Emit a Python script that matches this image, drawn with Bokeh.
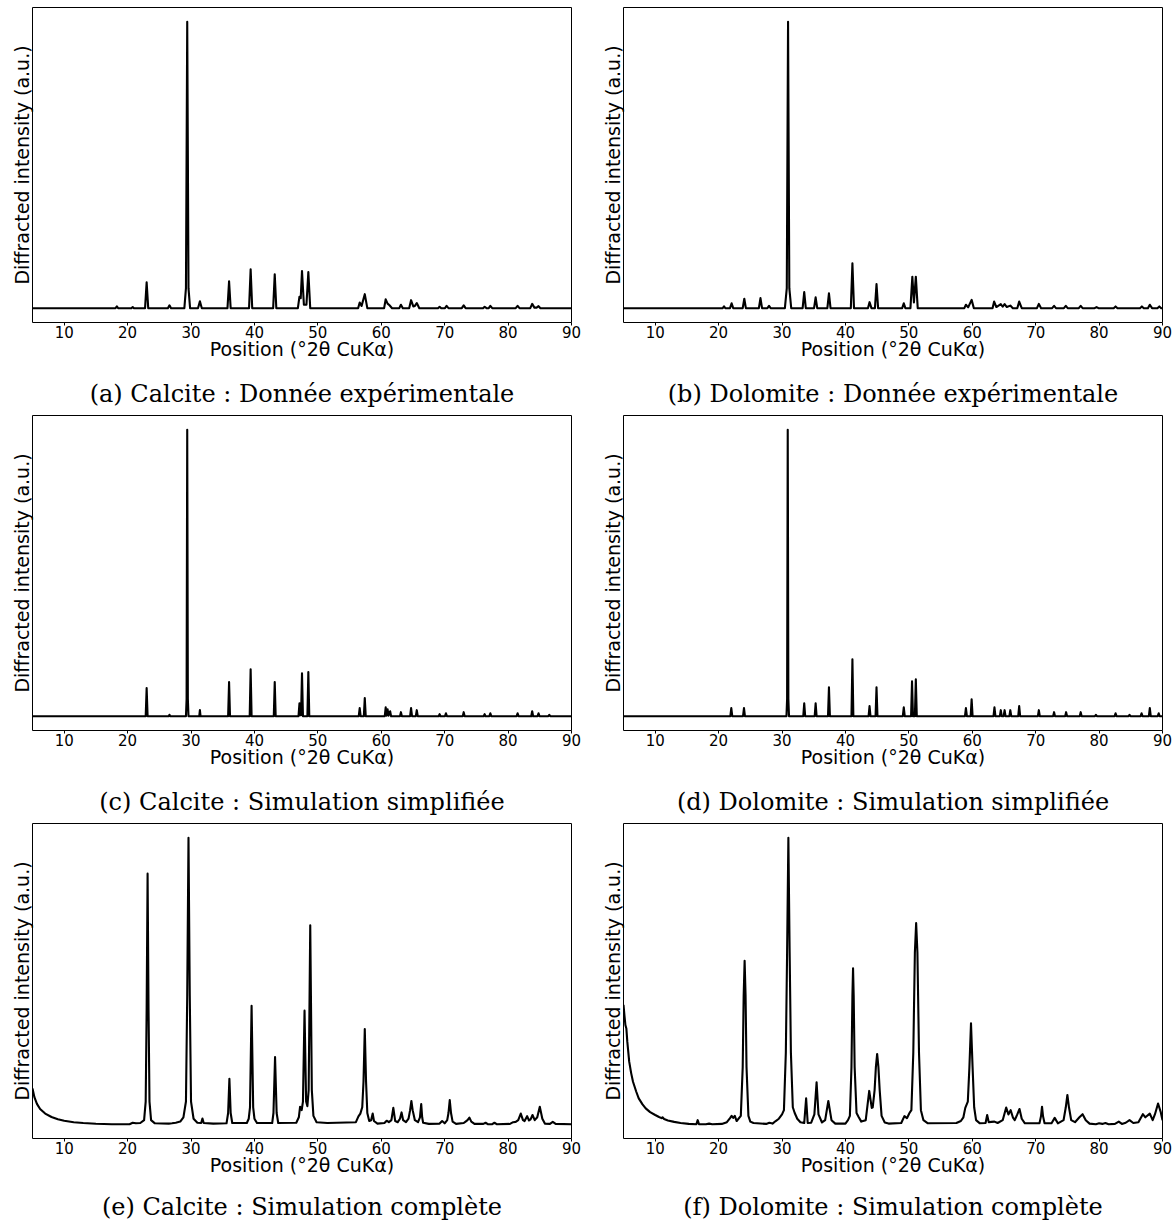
from bokeh.plotting import figure
from bokeh.models import Range1d, FixedTicker, LinearAxis
from bokeh.layouts import column, row
from bokeh.embed import file_html
from bokeh.resources import INLINE

# ---------------- data (°2θ, normalised intensity) ----------------
x_ticks = [10, 20, 30, 40, 50, 60, 70, 80, 90]

# (a) Calcite : experimental
calcite_exp_2theta = [
    5.0, 18.1, 18.3, 18.5,
    20.6, 20.8, 21.0,
    22.75, 23.0, 23.25,
    26.35, 26.6, 26.85,
    28.95, 29.2, 29.4, 29.6, 29.85,
    31.1, 31.4, 31.7,
    35.75, 36.0, 36.25,
    39.15, 39.4, 39.65,
    42.95, 43.2, 43.45,
    46.85, 47.1, 47.3, 47.5, 47.8, 48.2, 48.5, 48.8,
    56.35, 56.6, 56.9, 57.4, 57.8,
    60.45, 60.7, 61.0, 61.3, 61.7,
    62.85, 63.1, 63.4,
    64.4, 64.7, 65.05, 65.3, 65.6, 66.0,
    68.95, 69.2, 69.45, 70.05, 70.3, 70.6,
    72.7, 73.0, 73.3,
    76.05, 76.3, 76.6, 76.95, 77.2, 77.5,
    81.2, 81.5, 81.8,
    83.5, 83.8, 84.15, 84.5, 84.8, 85.1,
    90.0,
]
calcite_exp_int = [
    0.0, 0.0, 0.6, 0.0,
    0.0, 0.4, 0.0,
    0.0, 9.0, 0.0,
    0.0, 1.0, 0.0,
    0.0, 7.0, 100.0, 7.0, 0.0,
    0.0, 2.4, 0.0,
    0.0, 9.4, 0.0,
    0.0, 13.6, 0.0,
    0.0, 11.8, 0.0,
    0.0, 4.0, 3.5, 13.0, 1.2, 1.2, 12.6, 0.0,
    0.0, 2.0, 0.8, 4.9, 0.0,
    0.0, 3.1, 1.6, 1.0, 0.0,
    0.0, 1.2, 0.0,
    0.0, 2.8, 0.6, 0.8, 1.8, 0.0,
    0.0, 0.5, 0.0, 0.0, 0.8, 0.0,
    0.0, 1.0, 0.0,
    0.0, 0.5, 0.0, 0.0, 0.8, 0.0,
    0.0, 0.8, 0.0,
    0.0, 1.5, 0.2, 0.2, 0.7, 0.0,
    0.0,
]

# (b) Dolomite : experimental
dolomite_exp_2theta = [
    5.0,
    20.65, 20.85, 21.05,
    21.8, 22.05, 22.3,
    23.8, 24.05, 24.3,
    26.35, 26.6, 26.85,
    27.7, 27.95, 28.2,
    30.45, 30.75, 30.95, 31.15, 31.45,
    33.25, 33.5, 33.75,
    35.05, 35.3, 35.55,
    37.15, 37.4, 37.65,
    40.85, 41.1, 41.35,
    43.55, 43.8, 44.1, 44.65, 44.9, 45.15,
    48.95, 49.2, 49.45,
    50.25, 50.55, 50.8, 51.1, 51.4,
    58.75, 59.0, 59.35, 59.9, 60.25,
    63.2, 63.45, 63.8, 64.5, 64.8, 65.1, 65.45, 66.0, 66.4,
    67.1, 67.4, 67.8,
    70.2, 70.5, 70.85,
    72.6, 72.9, 73.2,
    74.45, 74.75, 75.05,
    76.8, 77.1, 77.4,
    79.3, 79.6, 79.9,
    82.3, 82.6, 82.9,
    86.45, 86.75, 87.05,
    87.7, 88.0, 88.35, 89.2, 89.5, 89.8,
    90.0,
]
dolomite_exp_int = [
    0.0,
    0.0, 0.6, 0.0,
    0.0, 1.7, 0.0,
    0.0, 3.3, 0.0,
    0.0, 3.5, 0.0,
    0.0, 0.8, 0.0,
    0.0, 7.0, 100.0, 7.0, 0.0,
    0.0, 5.6, 0.0,
    0.0, 3.8, 0.0,
    0.0, 5.2, 0.0,
    0.0, 15.7, 0.0,
    0.0, 2.1, 0.0, 0.0, 8.4, 0.0,
    0.0, 1.7, 0.0,
    0.0, 11.0, 2.0, 11.0, 0.0,
    0.0, 1.2, 0.3, 2.9, 0.0,
    0.0, 2.3, 0.4, 1.4, 0.5, 1.4, 0.4, 0.9, 0.0,
    0.0, 2.3, 0.0,
    0.0, 1.5, 0.0,
    0.0, 0.8, 0.0,
    0.0, 0.8, 0.0,
    0.0, 0.8, 0.0,
    0.0, 0.4, 0.0,
    0.0, 0.6, 0.0,
    0.0, 0.6, 0.0,
    0.0, 1.2, 0.0, 0.0, 0.6, 0.0,
    0.0,
]

# (c) Calcite : simplified simulation
calcite_simple_2theta = [
    5.0,
    22.85, 23.0, 23.15,
    26.5, 26.6, 26.7,
    29.2, 29.3, 29.4, 29.5, 29.6,
    31.3, 31.4, 31.5,
    35.85, 36.0, 36.15,
    39.25, 39.4, 39.55,
    43.05, 43.2, 43.35,
    46.95, 47.1, 47.25, 47.35, 47.5, 47.65, 48.35, 48.5, 48.65,
    56.45, 56.6, 56.75, 57.25, 57.4, 57.55,
    60.55, 60.7, 60.85, 61.0, 61.15, 61.4, 61.55,
    62.95, 63.1, 63.25,
    64.55, 64.7, 64.85, 65.45, 65.6, 65.75,
    69.05, 69.2, 69.35, 70.05, 70.2, 70.35,
    72.85, 73.0, 73.15,
    76.15, 76.3, 76.45, 77.05, 77.2, 77.35,
    81.35, 81.5, 81.65,
    83.65, 83.8, 83.95, 84.65, 84.8, 84.95,
    86.35, 86.5, 86.65,
    90.0,
]
calcite_simple_int = [
    0.0,
    0.0, 9.8, 0.0,
    0.0, 0.5, 0.0,
    0.0, 6.0, 100.0, 6.0, 0.0,
    0.0, 2.1, 0.0,
    0.0, 11.9, 0.0,
    0.0, 16.4, 0.0,
    0.0, 11.9, 0.0,
    0.0, 4.5, 0.3, 0.3, 15.0, 0.0, 0.0, 15.4, 0.0,
    0.0, 2.8, 0.0, 0.0, 6.3, 0.0,
    0.0, 3.1, 0.2, 2.4, 0.2, 1.7, 0.0,
    0.0, 1.4, 0.0,
    0.0, 2.8, 0.0, 0.0, 2.1, 0.0,
    0.0, 0.7, 0.0, 0.0, 1.0, 0.0,
    0.0, 1.4, 0.0,
    0.0, 0.7, 0.0, 0.0, 1.0, 0.0,
    0.0, 1.0, 0.0,
    0.0, 1.7, 0.0, 0.0, 1.0, 0.0,
    0.0, 0.5, 0.0,
    0.0,
]

# (d) Dolomite : simplified simulation
dolomite_simple_2theta = [
    5.0,
    21.85, 22.0, 22.15,
    23.85, 24.0, 24.15,
    30.7, 30.8, 30.9, 31.0, 31.1,
    33.35, 33.5, 33.65,
    35.15, 35.3, 35.45,
    37.25, 37.4, 37.55,
    40.95, 41.1, 41.25,
    43.65, 43.8, 43.95,
    44.75, 44.9, 45.05,
    49.05, 49.2, 49.35,
    50.35, 50.5, 50.65, 50.95, 51.1, 51.25,
    58.85, 59.0, 59.15, 59.75, 59.9, 60.05,
    63.35, 63.5, 63.65,
    64.35, 64.5, 64.65, 64.95, 65.1, 65.25, 65.85, 66.0, 66.15,
    67.25, 67.4, 67.55,
    70.35, 70.5, 70.65,
    72.75, 72.9, 73.05,
    74.65, 74.8, 74.95,
    76.95, 77.1, 77.25,
    79.35, 79.5, 79.65,
    82.45, 82.6, 82.75,
    84.65, 84.8, 84.95,
    86.55, 86.7, 86.85,
    87.85, 88.0, 88.15,
    89.25, 89.4, 89.55,
    90.0,
]
dolomite_simple_int = [
    0.0,
    0.0, 2.8, 0.0,
    0.0, 2.8, 0.0,
    0.0, 6.0, 100.0, 6.0, 0.0,
    0.0, 4.5, 0.0,
    0.0, 4.5, 0.0,
    0.0, 10.1, 0.0,
    0.0, 19.9, 0.0,
    0.0, 3.5, 0.0,
    0.0, 10.1, 0.0,
    0.0, 3.1, 0.0,
    0.0, 12.2, 0.0, 0.0, 12.9, 0.0,
    0.0, 2.8, 0.0, 0.0, 5.9, 0.0,
    0.0, 3.1, 0.0,
    0.0, 2.1, 0.0, 0.0, 2.1, 0.0, 0.0, 2.1, 0.0,
    0.0, 3.5, 0.0,
    0.0, 2.1, 0.0,
    0.0, 1.4, 0.0,
    0.0, 1.4, 0.0,
    0.0, 1.4, 0.0,
    0.0, 0.5, 0.0,
    0.0, 1.0, 0.0,
    0.0, 0.5, 0.0,
    0.0, 1.0, 0.0,
    0.0, 2.8, 0.0,
    0.0, 1.0, 0.0,
    0.0,
]

# (e) Calcite : complete simulation
calcite_full_2theta = [
    5.0, 5.3, 5.7, 6.2, 7.0, 8.0, 9.0, 10.0, 11.5, 13.0, 15.0, 17.5,
    20.3, 20.8, 21.3, 22.0,
    22.6, 22.85, 23.0, 23.15, 23.3, 23.45, 23.7, 24.3,
    26.5, 27.0, 27.6, 28.3, 28.8,
    29.2, 29.4, 29.6, 29.8, 30.0, 30.4, 31.0,
    31.6, 31.8, 32.0, 33.5,
    35.6, 35.85, 36.05, 36.25, 36.5,
    38.8, 39.1, 39.3, 39.55, 39.8, 40.0, 40.4,
    42.8, 43.0, 43.25, 43.5, 43.75,
    46.6, 47.0, 47.2, 47.45, 47.65, 47.9, 48.15, 48.35, 48.55, 48.8, 49.05, 49.3, 49.8,
    51.5,
    56.0, 56.4, 56.7, 57.0, 57.2, 57.4, 57.6, 57.8, 58.1, 58.4, 58.65, 58.85, 59.4,
    60.5, 60.85, 61.2, 61.6, 61.9, 62.2, 62.6, 62.95, 63.2, 63.45, 63.9,
    64.3, 64.55, 64.75, 64.95, 65.3, 65.8, 66.1, 66.3, 66.45, 66.6, 67.5,
    69.2, 69.6, 70.0, 70.4, 70.6, 70.8, 71.0, 71.25, 71.8,
    73.0, 73.3, 73.6, 73.9, 74.2, 74.7,
    76.1, 76.45, 76.8, 77.5, 77.85, 78.2,
    80.3, 80.8, 81.2, 81.6, 82.0, 82.35, 82.6, 83.0, 83.3, 83.55, 83.85, 84.2,
    84.6, 85.0, 85.4, 85.8, 86.6, 87.05, 87.5, 90.0,
]
calcite_full_int = [
    12.6, 9.5, 7.2, 5.4, 3.8, 2.6, 1.8, 1.3, 0.8, 0.5, 0.25, 0.1,
    0.1, 0.6, 0.4, 0.5,
    1.5, 8.0, 40.0, 87.5, 40.0, 8.0, 1.5, 0.4,
    0.3, 0.4, 0.6, 1.0, 2.5,
    8.0, 45.0, 100.0, 45.0, 8.0, 2.0, 0.6,
    0.5, 2.1, 0.5, 0.3,
    0.4, 4.0, 15.9, 4.0, 0.5,
    0.5, 2.0, 6.0, 41.4, 6.0, 2.0, 0.5,
    0.5, 4.0, 23.5, 4.0, 0.5,
    0.6, 2.5, 6.2, 5.0, 8.0, 39.7, 8.0, 6.4, 12.0, 69.5, 12.0, 3.0, 0.8,
    0.5,
    0.8, 2.8, 3.8, 6.0, 15.0, 33.3, 15.0, 4.0, 1.2, 1.5, 3.8, 1.2, 0.3,
    0.5, 1.3, 0.8, 1.5, 5.8, 1.2, 0.8, 2.0, 4.2, 1.5, 0.8,
    2.0, 5.0, 8.2, 5.0, 1.5, 0.8, 2.5, 7.1, 2.5, 0.6, 0.2,
    0.3, 1.2, 0.4, 1.5, 4.0, 8.5, 4.0, 1.0, 0.2,
    0.5, 1.0, 1.5, 2.4, 1.0, 0.2,
    0.2, 0.6, 0.1, 0.1, 0.6, 0.1,
    0.2, 0.8, 0.9, 1.5, 3.8, 1.5, 1.2, 2.9, 1.4, 1.8, 3.3, 1.5,
    2.5, 6.2, 2.0, 0.3, 0.2, 0.9, 0.2, 0.1,
]

# (f) Dolomite : complete simulation
dolomite_full_2theta = [
    5.0, 5.15, 5.3, 5.45, 5.6, 5.9, 6.2, 6.5, 7.0, 7.4, 8.0, 8.5, 9.2, 10.0,
    10.6, 11.0, 11.15, 11.4, 12.0, 13.0, 14.0, 15.3, 16.5, 16.7, 16.9,
    18.0, 18.5, 19.0, 20.5, 21.3, 21.8, 22.05, 22.3, 22.55, 22.85,
    23.5, 23.8, 23.95, 24.1, 24.25, 24.4, 24.7, 25.0, 25.5,
    27.5, 28.0, 28.5, 29.0, 29.5, 30.0,
    30.3, 30.6, 30.8, 31.0, 31.2, 31.4, 31.7, 32.0, 32.4, 32.9, 33.5,
    33.8, 34.05, 34.6, 35.1, 35.45, 35.75, 36.3, 36.8, 37.3, 37.8, 38.4,
    40.0, 40.4, 40.7, 40.95, 41.1, 41.2, 41.3, 41.45, 41.75, 42.1, 42.5,
    43.2, 43.75, 44.15, 44.3, 44.6, 44.8, 45.0, 45.2, 45.4, 45.7, 46.2, 46.8,
    48.8, 49.3, 49.7, 50.1,
    50.4, 50.7, 50.95, 51.15, 51.35, 51.6, 51.9, 52.3, 53.0,
    57.5, 58.2, 58.6, 58.9, 59.3, 59.55, 59.8, 60.05, 60.3, 60.6, 61.2,
    62.1, 62.35, 62.6, 63.0, 63.5, 64.0, 64.8, 65.35, 65.7, 66.05, 66.4,
    66.7, 67.1, 67.45, 67.8, 68.3,
    70.6, 70.85, 71.0, 71.15, 71.4,
    72.5, 73.0, 73.5,
    74.4, 74.75, 75.0, 75.25, 75.6, 76.2, 76.9, 77.4, 77.9, 78.5,
    79.5, 80.0, 80.5, 81.0, 81.5, 82.5, 83.1, 83.6, 84.2, 84.8, 85.4,
    86.2, 86.9, 87.3, 88.0, 88.45, 88.8, 89.3, 89.7, 90.0,
]
dolomite_full_int = [
    41.7, 38.0, 34.7, 33.5, 28.9, 21.9, 18.0, 14.9, 11.5, 9.1, 7.0, 5.6, 4.3, 3.3,
    2.6, 2.2, 2.5, 1.9, 1.4, 0.9, 0.5, 0.2, 0.1, 1.5, 0.1,
    0.1, 0.3, 0.1, 0.2, 0.8, 2.2, 3.0, 2.3, 3.0, 1.2,
    3.0, 20.0, 45.0, 57.1, 45.0, 20.0, 3.0, 1.0, 0.5,
    0.2, 0.6, 0.3, 1.2, 2.0, 3.5,
    5.0, 25.0, 60.0, 100.0, 60.0, 25.0, 6.0, 4.0, 2.0, 0.8, 0.5,
    9.1, 0.5, 0.6, 3.5, 14.7, 3.5, 0.7, 1.5, 8.2, 1.5, 0.3,
    0.3, 1.5, 3.0, 20.0, 45.0, 54.5, 45.0, 20.0, 4.0, 2.5, 1.0,
    1.5, 11.7, 5.8, 6.0, 12.0, 20.0, 24.6, 20.0, 12.0, 3.0, 0.7, 0.3,
    0.5, 2.9, 2.2, 4.0,
    5.0, 25.0, 60.0, 70.3, 60.0, 25.0, 5.0, 1.5, 0.4,
    0.5, 1.2, 2.5, 5.8, 8.0, 20.0, 35.3, 20.0, 6.0, 1.5, 0.4,
    0.5, 3.3, 0.8, 0.9, 1.0, 0.5, 1.5, 5.9, 3.5, 5.0, 2.5,
    1.5, 3.5, 5.4, 2.0, 0.4,
    0.4, 3.0, 6.2, 3.0, 0.4,
    0.4, 2.3, 0.4,
    1.5, 6.0, 10.3, 6.0, 1.5, 0.8, 2.5, 3.6, 1.5, 0.3,
    0.1, 0.4, 0.2, 0.5, 0.1, 0.2, 1.0, 0.2, 0.6, 1.5, 0.5,
    0.8, 3.6, 2.5, 3.8, 1.5, 3.5, 7.3, 4.5, 1.5,
]

captions = [
    "(a) Calcite : Donnée expérimentale",
    "(b) Dolomite : Donnée expérimentale",
    "(c) Calcite : Simulation simplifiée",
    "(d) Dolomite : Simulation simplifiée",
    "(e) Calcite : Simulation complète",
    "(f) Dolomite : Simulation complète",
]

SANS = "DejaVu Sans"
SERIF = "DejaVu Serif"


def bare_axis(ax):
    ax.axis_line_color = None
    ax.major_tick_out = 0
    ax.major_tick_in = 0
    ax.major_tick_line_color = None
    ax.minor_tick_line_color = None
    ax.major_label_standoff = 0
    ax.major_label_text_font_size = "0px"
    ax.axis_label_text_font_style = "normal"
    ax.axis_label_text_color = "black"


def make_panel(xs, ys, caption, left, right, top, bottom, cap_gap):
    assert len(xs) == len(ys), caption
    lo, hi = min(ys), max(ys)
    pad = 0.05 * (hi - lo)
    p = figure(frame_width=539, frame_height=315,
               x_range=Range1d(5, 90), y_range=Range1d(lo - pad, hi + pad),
               output_backend="svg", toolbar_location=None,
               min_border_left=left, min_border_right=right,
               min_border_top=top, min_border_bottom=bottom)
    p.line(xs, ys, line_color="black", line_width=2.1, line_join="round")
    p.grid.visible = False
    p.background_fill_color = "white"
    p.border_fill_color = "white"
    p.outline_line_color = "black"
    p.outline_line_width = 1
    p.outline_line_alpha = 1.0

    xa = p.xaxis[0]
    xa.ticker = FixedTicker(ticks=x_ticks)
    xa.axis_line_color = None
    xa.major_tick_out = 3
    xa.major_tick_in = 0
    xa.minor_tick_line_color = None
    xa.major_tick_line_color = "black"
    xa.major_label_standoff = 0
    xa.major_label_text_font = SANS
    xa.major_label_text_font_size = "15px"
    xa.major_label_text_color = "black"
    xa.axis_label = "Position (°2θ CuKα)"
    xa.axis_label_text_font = SANS
    xa.axis_label_text_font_size = "19px"
    xa.axis_label_text_font_style = "normal"
    xa.axis_label_text_color = "black"
    xa.axis_label_standoff = -3

    ya = p.yaxis[0]
    ya.ticker = FixedTicker(ticks=[])
    bare_axis(ya)
    ya.axis_label = "Diffracted intensity (a.u.)"
    ya.axis_label_text_font = SANS
    ya.axis_label_text_font_size = "19px"
    ya.axis_label_standoff = 0

    # sub-figure caption, placed under the x axis
    cap = LinearAxis(ticker=FixedTicker(ticks=[]))
    bare_axis(cap)
    cap.axis_label = caption
    cap.axis_label_text_font = SERIF
    cap.axis_label_text_font_size = "24px"
    cap.axis_label_standoff = cap_gap
    p.add_layout(cap, "below")
    return p


pa = make_panel(calcite_exp_2theta, calcite_exp_int, captions[0], 32, 27, 7, 89, 17)
pb = make_panel(dolomite_exp_2theta, dolomite_exp_int, captions[1], 24, 12, 7, 89, 17)
pc = make_panel(calcite_simple_2theta, calcite_simple_int, captions[2], 32, 27, 4, 89, 17)
pd = make_panel(dolomite_simple_2theta, dolomite_simple_int, captions[3], 24, 12, 4, 89, 17)
pe = make_panel(calcite_full_2theta, calcite_full_int, captions[4], 32, 27, 4, 87, 14)
pf = make_panel(dolomite_full_2theta, dolomite_full_int, captions[5], 24, 12, 4, 87, 14)

layout = column(row(pa, pb), row(pc, pd), row(pe, pf))
open("out.html", "w").write(file_html(layout, INLINE))
